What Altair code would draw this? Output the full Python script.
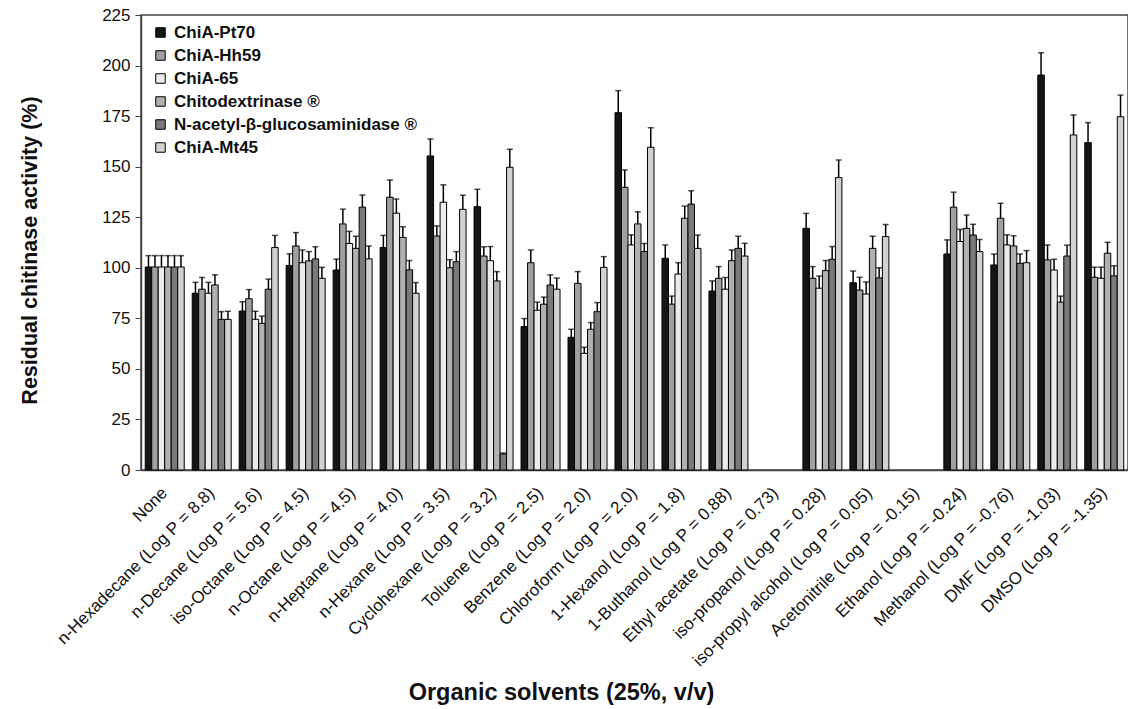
import altair as alt
import pandas as pd

solvents = [
    "None",
    "n-Hexadecane (Log P = 8.8)",
    "n-Decane (Log P = 5.6)",
    "iso-Octane (Log P = 4.5)",
    "n-Octane (Log P = 4.5)",
    "n-Heptane  (Log P = 4.0)",
    "n-Hexane (Log P = 3.5)",
    "Cyclohexane (Log P = 3.2)",
    "Toluene (Log P = 2.5)",
    "Benzene (Log P = 2.0)",
    "Chloroform (Log P = 2.0)",
    "1-Hexanol (Log P = 1.8)",
    "1-Buthanol (Log P = 0.88)",
    "Ethyl acetate (Log P = 0.73)",
    "iso-propanol (Log P = 0.28)",
    "iso-propyl alcohol (Log P = 0.05)",
    "Acetonitrile  (Log P = -0.15)",
    "Ethanol  (Log P = -0.24)",
    "Methanol  (Log P = -0.76)",
    "DMF  (Log P = -1.03)",
    "DMSO  (Log P = -1.35)",
]

series = ["ChiA-Pt70", "ChiA-Hh59", "ChiA-65", "Chitodextrinase ®",
          "N-acetyl-β-glucosaminidase ®", "ChiA-Mt45"]

pt70 = [100.4, 87.4, 78.6, 101.1, 98.9, 110, 155.3, 130.2, 70.9, 65.6, 176.7, 104.7, 88.5, None, 119.5, 92.6, None, 106.8, 101.4, 195.3, 161.9]
pt70_err = [5.6, 5.4, 4.6, 5.8, 5.4, 6, 8.4, 8.6, 4, 4, 10.9, 6.6, 5, None, 7.4, 5.8, None, 7, 5.4, 11, 9.9]

hh59 = [100.4, 89.4, 84.7, 110.8, 121.7, 134.9, 115.7, 105.8, 102.5, 92.3, 139.8, 82, 94.8, None, 94.8, 89, None, 130, 124.5, 103.9, 95.3]
hh59_err = [5.6, 5.8, 4.5, 6.6, 7.3, 8.5, 5, 4.6, 6.3, 5.8, 8.6, 4, 5.8, None, 5.8, 6.3, None, 7.4, 7.4, 7.4, 5]

chia65 = [100.4, 87.4, 74.5, 102.5, 112, 127, 132.4, 103.5, 79, 57.7, 111.3, 96.9, 89.4, None, 89.9, 87, None, 113, 111.3, 98.9, 94.8]
chia65_err = [5.6, 5.4, 4, 6.3, 6, 7, 8.6, 7, 4, 3, 5, 5.6, 5.8, None, 6, 6, None, 6, 5, 5.3, 5.5]

chito = [100.4, 91.5, 72.5, 103.4, 109.6, 115, 100, 93.5, 82, 69.6, 121.7, 124.5, 103.5, None, 98.6, 109.6, None, 119.5, 110.8, 83, 107.2]
chito_err = [5.6, 5, 3.6, 4.6, 6, 5.3, 4, 4.6, 3.5, 3.3, 6, 6, 5.3, None, 5, 6, None, 6.6, 5, 3, 5.4]

nacetyl = [100.4, 74.5, 89.4, 104.4, 130, 99, 103, 7.9, 91.5, 78.3, 108, 131.5, 109.6, None, 104.2, 95, None, 116.2, 102.2, 105.8, 96]
nacetyl_err = [5.6, 3.8, 5, 6, 6, 4.6, 5, 0.5, 5, 4.5, 4, 6.6, 6, None, 6.3, 5, None, 5.3, 4.6, 5.4, 5]

mt45 = [100.4, 74.5, 110, 94.8, 104.4, 87.4, 128.9, 149.7, 89.4, 100.2, 159.6, 109.6, 105.8, None, 144.6, 115.4, None, 108, 102.5, 165.7, 174.7]
mt45_err = [5.6, 4, 6, 5.4, 6.4, 5.3, 7, 8.9, 5.5, 5.3, 9.7, 6.6, 6.3, None, 8.7, 6, None, 6, 6, 9.9, 10.7]

fills = ["#151515", "#a0a0a0", "#ebebeb", "#b0b0b0", "#7a7a7a", "#d2d2d2"]

all_vals = [pt70, hh59, chia65, chito, nacetyl, mt45]
all_errs = [pt70_err, hh59_err, chia65_err, chito_err, nacetyl_err, mt45_err]

rows = []
for s, vals, errs in zip(series, all_vals, all_errs):
    for c, v, e in zip(solvents, vals, errs):
        if v is None:
            continue
        rows.append({"solvent": c, "series": s, "value": v, "top": v + e})
df = pd.DataFrame(rows)

FONT = "Liberation Sans"
ytitle = "Residual chitinase activity (%)"
xtitle = "Organic solvents (25%, v/v)"

x_enc = alt.X(
    "solvent:N",
    sort=solvents,
    scale=alt.Scale(domain=solvents, paddingInner=0.17, paddingOuter=0.09),
    title=xtitle,
    axis=alt.Axis(
        labelAngle=-45, labelAlign="right", labelBaseline="middle",
        labelFontSize=17, labelPadding=20, labelColor="#111",
        ticks=False, domainColor="#444", domainWidth=1.5,
        titleFontSize=23.5, titleFontWeight="bold", titleColor="#111",
        titleX=420, titleY=222, titleAlign="center", titleBaseline="middle",
        labelLimit=400,
    ),
)
xo = alt.XOffset("series:N", sort=series,
                 scale=alt.Scale(domain=series, paddingInner=0, paddingOuter=0))
y_scale = alt.Scale(domain=[0, 225], nice=False)

bars = alt.Chart(df).mark_bar(stroke="black", strokeWidth=1).encode(
    x=x_enc,
    xOffset=xo,
    y=alt.Y(
        "value:Q", scale=y_scale, title=ytitle,
        axis=alt.Axis(
            values=list(range(0, 226, 25)), labelFontSize=17, labelColor="#111",
            tickSize=6, labelPadding=5, grid=False,
            domainColor="#444", tickColor="#444", domainWidth=1.5,
            titleFontSize=21.5, titleFontWeight="bold", titleColor="#111",
            titleX=-111, titleY=235, titleAlign="center", titleBaseline="middle",
            titleAngle=270,
        ),
    ),
    color=alt.Color(
        "series:N", sort=series,
        scale=alt.Scale(domain=series, range=fills),
        legend=alt.Legend(
            orient="none", legendX=11, legendY=9, title=None,
            symbolType="square", symbolSize=90, symbolStrokeColor="black",
            symbolStrokeWidth=1, labelFontSize=17, labelFontWeight="bold",
            labelColor="#111", rowPadding=5, labelOffset=5, padding=0,
            labelLimit=400,
        ),
    ),
)

rules = alt.Chart(df).mark_rule(color="black", strokeWidth=1.5).encode(
    x=alt.X("solvent:N", sort=solvents, title=xtitle),
    xOffset=xo,
    y=alt.Y("value:Q", scale=y_scale, title=ytitle),
    y2="top:Q",
)

caps = alt.Chart(df).mark_tick(color="black", thickness=1.5, size=6).encode(
    x=alt.X("solvent:N", sort=solvents, title=xtitle),
    xOffset=xo,
    y=alt.Y("top:Q", scale=y_scale, title=ytitle),
)

chart = alt.layer(bars, rules, caps).properties(
    width=987,
    height=455,
    autosize=alt.AutoSizeParams(type="none"),
    padding={"left": 141, "top": 15, "right": 0, "bottom": 239},
).configure(font=FONT).configure_view(stroke="#444", strokeWidth=1.5)

chart.save("out.html", embed_options={"renderer": "svg", "actions": False})
